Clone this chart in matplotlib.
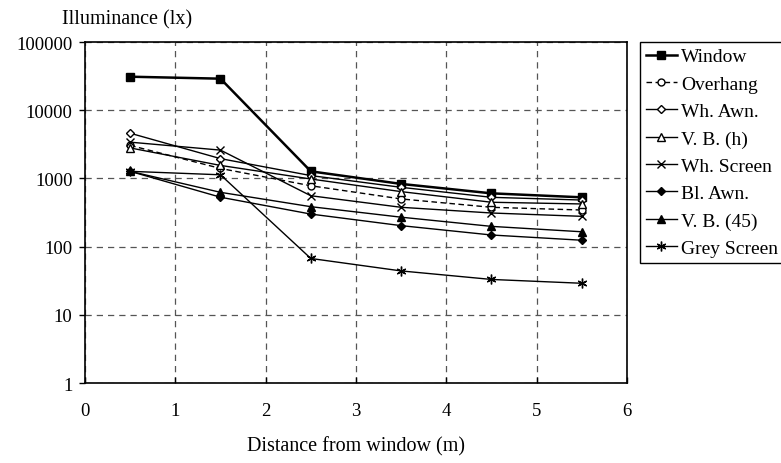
import matplotlib
matplotlib.use("Agg")
import matplotlib.pyplot as plt
from matplotlib.ticker import FixedLocator, FuncFormatter, NullLocator

plt.rcParams['font.family'] = ['Liberation Serif', 'DejaVu Serif']

# DATA
distance = [0.5, 1.5, 2.5, 3.5, 4.5, 5.5]
window = [31000, 29000, 1270, 830, 604, 528]
overhang = [3050, 1400, 780, 500, 377, 344]
wh_awn = [4600, 1950, 1100, 740, 528, 482]
vb_h = [2800, 1550, 980, 640, 447, 422]
wh_screen = [3400, 2600, 557, 377, 311, 278]
bl_awn = [1270, 530, 300, 203, 148, 124]
vb_45 = [1270, 625, 385, 270, 198, 165]
grey_screen = [1270, 1130, 67, 44, 33, 29]

fig = plt.figure(figsize=(7.81, 4.64), dpi=100)
ax = fig.add_axes([0.1088, 0.1724, 0.694, 0.7349])

ax.plot(distance, window, color="black", lw=1.8, marker="s", ms=6, label="Window")
ax.plot(distance, overhang, color="black", lw=1, ls=(0, (4, 2.5)), marker="o", ms=5,
        mfc="white", label="Overhang")
ax.plot(distance, wh_awn, color="black", lw=1, marker="D", ms=4.5, mfc="white", label="Wh. Awn.")
ax.plot(distance, vb_h, color="black", lw=1, marker="^", ms=5.5, mfc="white", label="V. B. (h)")
ax.plot(distance, wh_screen, color="black", lw=1, marker="x", ms=6, mew=1, label="Wh. Screen")
ax.plot(distance, bl_awn, color="black", lw=1, marker="D", ms=4.5, label="Bl. Awn.")
ax.plot(distance, vb_45, color="black", lw=1, marker="^", ms=5.5, label="V. B. (45)")
ax.plot(distance, grey_screen, color="black", lw=1, marker=(6, 2, 0), ms=7, mew=1,
        label="Grey Screen")

ax.set_yscale("log")
ax.set_xlim(0, 6)
ax.set_ylim(1, 100000)
ax.xaxis.set_major_locator(FixedLocator([0, 1, 2, 3, 4, 5, 6]))
ax.yaxis.set_major_locator(FixedLocator([1, 10, 100, 1000, 10000, 100000]))
ax.yaxis.set_minor_locator(NullLocator())
ax.yaxis.set_major_formatter(FuncFormatter(lambda v, p: f"{v:.0f}"))
ax.grid(True, color="#555555", ls=(0, (5, 4)), lw=0.9)
ax.tick_params(axis="both", labelsize=13.5, color="black", length=4, width=1)
ax.tick_params(axis="x", direction="in", pad=14)
ax.tick_params(axis="y", direction="out", pad=5)
for s in ax.spines.values():
    s.set_linewidth(1.2)

fig.text(62 / 781, 1 - 20 / 464, "Illuminance (lx)", fontsize=14.5, va="center", ha="left")
fig.text(356 / 781, 1 - 447 / 464, "Distance from window (m)", fontsize=14.5,
         va="center", ha="center")

leg = ax.legend(loc="upper left", bbox_to_anchor=(640 / 781, 1 - 43 / 464),
                bbox_transform=fig.transFigure, fontsize=14, handlelength=1.6,
                handletextpad=0.2, labelspacing=0.5, borderpad=0.3,
                borderaxespad=0, fancybox=False, framealpha=1, edgecolor="black")
leg.get_frame().set_linewidth(1)

fig.savefig("out.png", dpi=100)
